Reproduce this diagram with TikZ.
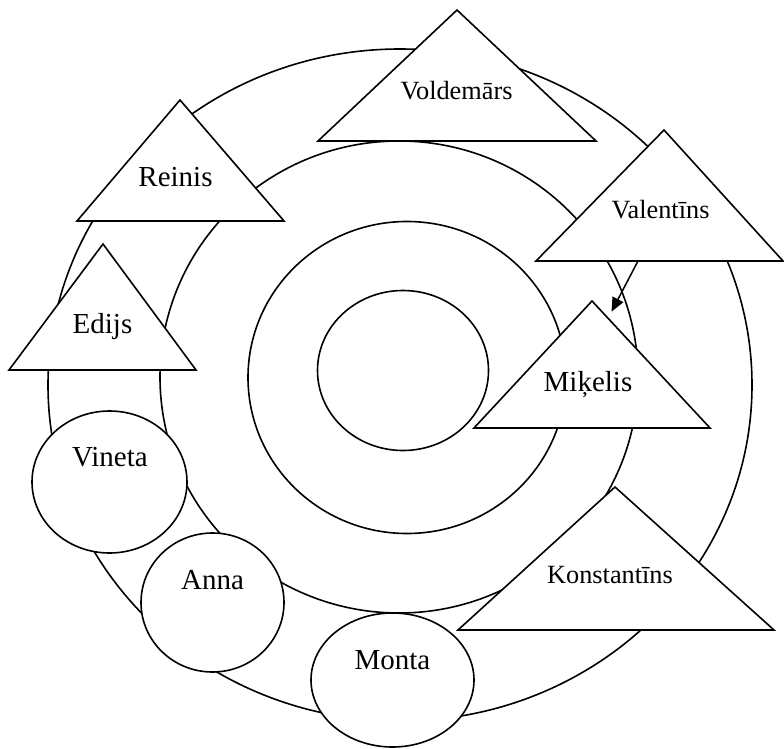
\documentclass[tikz,border=0pt]{standalone}
\usepackage{fontspec}
\setmainfont{Liberation Serif}
\usetikzlibrary{arrows.meta,shapes.geometric}
\begin{document}
\begin{tikzpicture}[x=1pt,y=-1pt, line width=1.6pt,
 ring/.style={draw, ellipse, inner sep=0pt, outer sep=0pt},
 tri/.style={draw, fill=white, line join=miter},
 person/.style={draw, fill=white, ellipse, inner sep=0pt, outer sep=0pt},
 lbl/.style={inner sep=0pt, anchor=base, font=\fontsize{29}{34}\selectfont},
 lbls/.style={inner sep=0pt, anchor=base, font=\fontsize{26.3}{31}\selectfont},
 link/.style={-{Triangle[length=14pt,width=12pt]}, line width=1.5pt}
]
\useasboundingbox (0,0) rectangle (784,749);
% concentric rings
\node[ring, minimum width=704pt, minimum height=672pt] (ring4) at (400,385) {};
\node[ring, minimum width=478pt, minimum height=472pt] (ring3) at (399,377) {};
\node[ring, minimum width=318pt, minimum height=312pt] (ring2) at (407,377.5) {};
\node[ring, minimum width=171pt, minimum height=160pt] (ring1) at (403,370.5) {};
% triangles
\coordinate (reA) at (180,100); \coordinate (reL) at (77,221); \coordinate (reR) at (284,221);
\coordinate (edA) at (103,244); \coordinate (edL) at (9,370); \coordinate (edR) at (196,370);
\coordinate (voA) at (457,10); \coordinate (voL) at (318,141); \coordinate (voR) at (596,141);
\coordinate (vaA) at (664,130); \coordinate (vaL) at (536,261); \coordinate (vaR) at (783,261);
\coordinate (miA) at (592,301); \coordinate (miL) at (474,428); \coordinate (miR) at (710,428);
\coordinate (koA) at (615,487); \coordinate (koL) at (458,630); \coordinate (koR) at (774,630);
\draw[tri] (reA) -- (reL) -- (reR) -- cycle;
\draw[tri] (edA) -- (edL) -- (edR) -- cycle;
\draw[tri] (voA) -- (voL) -- (voR) -- cycle;
\draw[tri] (vaA) -- (vaL) -- (vaR) -- cycle;
\draw[tri] (miA) -- (miL) -- (miR) -- cycle;
\draw[tri] (koA) -- (koL) -- (koR) -- cycle;
\node[lbl] (reinis) at (175.5,186.7) {Reinis};
\node[lbl] (edijs) at (102.5,333) {Edijs};
\node[lbls] (voldemars) at (456.5,100) {Voldemārs};
\node[lbls] (valentins) at (660.5,218.3) {Valentīns};
\node[lbl] (mikelis) at (588,391.5) {Miķelis};
\node[lbls] (konstantins) at (610,583.3) {Konstantīns};
% ellipses
\node[person, minimum width=155pt, minimum height=142pt] (vinetaE) at (109.5,482) {};
\node[person, minimum width=143pt, minimum height=139pt] (annaE) at (212.5,602.5) {};
\node[person, minimum width=163pt, minimum height=134pt] (montaE) at (392.5,680) {};
\node[lbl] (vineta) at (110,466.7) {Vineta};
\node[lbl] (anna) at (212.5,589) {Anna};
\node[lbl] (monta) at (392.5,669.3) {Monta};
% arrow
\coordinate (valout) at (638,261);
\coordinate (mikin) at (611.5,311.7);
\draw[link] (valout) -- (mikin);
\end{tikzpicture}
\end{document}
